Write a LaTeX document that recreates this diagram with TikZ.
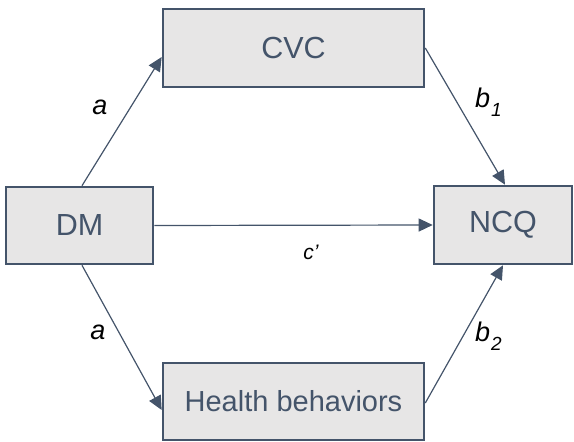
\documentclass[tikz,border=0pt]{standalone}
\usepackage{fontspec}
\setmainfont{Liberation Sans}
\usetikzlibrary{arrows.meta}
\definecolor{boxfill}{HTML}{E7E6E6}
\definecolor{boxline}{HTML}{44546A}
\newcommand{\lowsub}[1]{\kern1pt\raisebox{-9pt}{\fontsize{19}{22}\selectfont #1}}
\begin{document}
\begin{tikzpicture}[x=1pt,y=-1pt,
  varbox/.style={draw=boxline, line width=2.6pt, fill=boxfill, text=boxline, inner sep=0pt, font=\fontsize{30.5}{36}\selectfont},
  path/.style={draw=boxline, line width=1.2pt, -{Triangle[length=14pt,width=13pt]}},
  lab/.style={font=\fontsize{27}{32}\selectfont\itshape, text=black, inner sep=0pt}]
\useasboundingbox (0,0) rectangle (574,442);
\node[varbox, minimum width=261pt, minimum height=78pt] (cvc) at (293.5,48) {CVC};
\node[varbox, minimum width=147pt, minimum height=77pt] (dm) at (79.5,225.5) {DM};
\node[varbox, minimum width=138pt, minimum height=78pt] (ncq) at (503,225) {NCQ};
\node[varbox, minimum width=261pt, minimum height=77pt, font=\fontsize{29}{34}\selectfont] (hb) at (293.5,401.5) {Health behaviors};
\draw[path] ([xshift=2.5pt]dm.north) -- ([yshift=-9pt]cvc.west);
\draw[path] ([xshift=2.5pt]dm.south) -- ([yshift=-8.5pt]hb.west);
\draw[path] (dm.east) -- (ncq.west);
\draw[path] (cvc.east) -- ([xshift=2pt]ncq.north);
\draw[path] ([yshift=-1.5pt]hb.east) -- (ncq.south);
\node[lab] (la1) at (100,107) {a};
\node[lab] (la2) at (98,332) {a};
\node[lab, anchor=base west] (lb1) at (475,107) {b\lowsub{1}};
\node[lab, anchor=base west] (lb2) at (475,341) {b\lowsub{2}};
\node[lab, font=\fontsize{21}{24}\selectfont\itshape] (lc) at (311,252) {c’};
\end{tikzpicture}
\end{document}
